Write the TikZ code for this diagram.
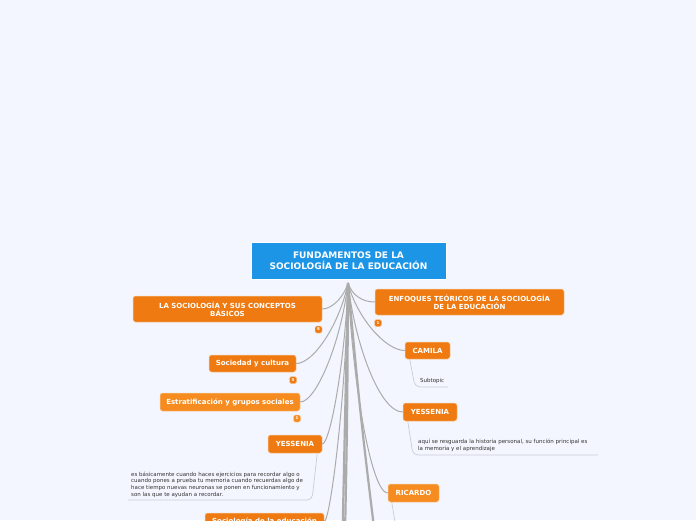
\documentclass[tikz,border=0pt]{standalone}
\usepackage{fontspec}
\setmainfont{DejaVu Sans}
\usetikzlibrary{calc}
\definecolor{bg}{HTML}{F3F6FE}
\definecolor{cblue}{HTML}{1C95E7}
\definecolor{corange}{HTML}{EE7A11}
\definecolor{clight}{HTML}{F68B1F}
\definecolor{cline}{HTML}{ABABAB}
\definecolor{csub}{HTML}{C9CDD5}
\definecolor{ctext}{HTML}{333333}
\begin{document}
\begin{tikzpicture}[x=1pt,y=-1pt,
  topic/.style={rectangle,rounded corners=2.5pt,fill=corange,draw=white!60!corange,line width=0.5pt,
    text=white,font=\fontsize{7}{8.2}\selectfont\bfseries,align=center,inner sep=0pt},
  badge/.style={rectangle,rounded corners=1.5pt,fill=corange,draw=white!60!corange,line width=0.4pt,
    minimum width=7pt,minimum height=7pt,inner sep=0pt,text=white,font=\fontsize{4}{4}\selectfont\bfseries},
  conn/.style={draw=cline,line width=1pt},
  thick conn/.style={draw=cline,line width=2.2pt},
  subline/.style={draw=csub,line width=0.7pt,rounded corners=5pt},
  subtext/.style={text=ctext,font=\fontsize{5.5}{6.8}\selectfont,align=left,inner sep=0pt,anchor=north west}
]
\fill[bg] (0,0) rectangle (696,520);
\useasboundingbox (0,0) rectangle (696,520);

% central
\node[rectangle,fill=cblue,draw=white,line width=0.8pt,minimum width=195pt,minimum height=37pt,
  text=white,font=\fontsize{9}{10.6}\selectfont\bfseries,align=center] (root) at (348.5,260.5)
  {FUNDAMENTOS DE LA\\SOCIOLOGÍA DE LA EDUCACIÓN};
\coordinate (o) at (348,283);

% left topics
\node[topic,minimum width=189pt,minimum height=26pt] (n1) at (227.5,309) {LA SOCIOLOGÍA Y SUS CONCEPTOS\\BÁSICOS};
\node[badge] (b1) at (318.5,329.5) {8};
\node[topic,minimum width=87pt,minimum height=17pt] (n2) at (252.5,363.5) {Sociedad y cultura};
\node[badge] (b2) at (293,380) {5};
\node[topic,fill=clight,minimum width=140pt,minimum height=18pt] (n3) at (230,402) {Estratificación y grupos sociales};
\node[badge,fill=clight] (b3) at (297,418.5) {1};
\node[topic,minimum width=54pt,minimum height=18pt] (n4) at (295,444) {YESSENIA};
\node[topic,minimum width=119pt,minimum height=17pt] (n5) at (264.5,521.5) {Sociología de la educación};

% right topics
\node[topic,minimum width=189pt,minimum height=26pt] (r1) at (469.5,302) {ENFOQUES TEÓRICOS DE LA SOCIOLOGÍA\\DE LA EDUCACIÓN};
\node[badge] (rb1) at (378,323) {1};
\node[topic,minimum width=45pt,minimum height=17pt] (r2) at (427.5,350.5) {CAMILA};
\node[topic,minimum width=54pt,minimum height=18pt] (r3) at (430,412) {YESSENIA};
\node[topic,fill=clight,minimum width=51pt,minimum height=18pt] (r4) at (413.5,493) {RICARDO};

% continuation coordinates below page
\coordinate (d1) at (342,560);
\coordinate (d2) at (344.5,560);
\coordinate (d3) at (378,560);

% connectors
\draw[thick conn] (o) .. controls ($(o)!0.5!(d1)$) .. (d1);
\draw[thick conn] (o) .. controls ($(o)!0.5!(d2)+(1,0)$) .. (d2);
\draw[thick conn] (o) .. controls ($(o)!0.5!(d3)+(-2,0)$) .. (d3);
\draw[conn] (o) .. controls (344,297) and (332,309) .. (n1.east);
\draw[conn] (o) .. controls (340,323) and (314,363.5) .. (n2.east);
\draw[conn] (o) .. controls (341,343) and (316,402) .. (n3.east);
\draw[conn] (o) .. controls (345,363) and (330,444) .. (n4.east);
\draw[conn] (o) .. controls (346,400) and (330,521.5) .. (n5.east);
\draw[conn] (o) .. controls (352,295) and (362,302) .. (r1.west);
\draw[conn] (o) .. controls (356,316) and (385,350.5) .. (r2.west);
\draw[conn] (o) .. controls (355,345) and (380,412) .. (r3.west);
\draw[conn] (o) .. controls (353,390) and (372,493) .. (r4.west);

% subtopics
\coordinate (sl1) at (128,500);
\draw[subline] ($(n4.south east)+(-5,0)$) -- (312,500) -- (sl1);
\node[subtext] (t1) at (131,471.5)
 {es básicamente cuando haces ejercicios para recordar algo o\\cuando pones a prueba tu memoria  cuando recuerdas algo de\\hace tiempo nuevas neuronas se ponen en funcionamiento y\\son las que te ayudan a recordar.};

\coordinate (sl2) at (448,387);
\draw[subline] ($(r2.south west)+(5,0)$) -- (415,387) -- (sl2);
\node[subtext] (t2) at (420,378) {Subtopic};

\coordinate (sl3) at (598,455);
\draw[subline] ($(r3.south west)+(5,0)$) -- (413,455) -- (sl3);
\node[subtext] (t3) at (418,439) {aquí se resguarda la historia personal, su función principal es\\la memoria y el aprendizaje};

\coordinate (sl4) at (398,540);
\draw[subline] ($(r4.south west)+(4,0)$) -- (sl4);
\end{tikzpicture}
\end{document}
